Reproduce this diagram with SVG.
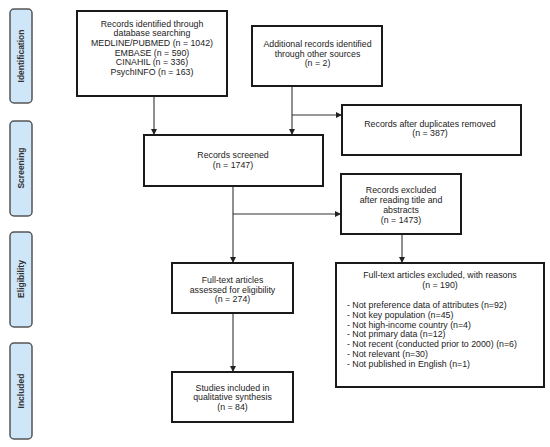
<svg xmlns="http://www.w3.org/2000/svg" width="550" height="447" viewBox="0 0 550 447">
<style>
.box{fill:#fff;stroke:#1a1a1a;stroke-width:2}
.side{fill:#cfe6f8;stroke:#555;stroke-width:1.5}
.t{font-family:"Liberation Sans",Arial,sans-serif;font-size:8.8px;fill:#222;text-anchor:middle}
.l{text-anchor:start}
.s{font-family:"Liberation Sans",Arial,sans-serif;font-size:8.5px;font-weight:bold;fill:#333;text-anchor:middle}
.c{fill:none;stroke:#333;stroke-width:1.1}
</style>
<defs>
<marker id="ah" viewBox="0 0 10 10" refX="10" refY="5" markerWidth="6" markerHeight="6" markerUnits="userSpaceOnUse" orient="auto">
<path d="M0,0 L10,5 L0,10 z" fill="#222"/>
</marker>
</defs>
<rect width="550" height="447" fill="#fff"/>
<g id="side-identification"><rect class="side" x="10" y="9" width="22" height="94" rx="4"/><text class="s" transform="translate(24,56) rotate(-90)">Identification</text></g>
<g id="side-screening"><rect class="side" x="10" y="121" width="22" height="95" rx="4"/><text class="s" transform="translate(24,168) rotate(-90)">Screening</text></g>
<g id="side-eligibility"><rect class="side" x="10" y="232" width="22" height="95" rx="4"/><text class="s" transform="translate(24,279) rotate(-90)">Eligibility</text></g>
<g id="side-included"><rect class="side" x="10" y="343" width="22" height="96" rx="4"/><text class="s" transform="translate(24,391) rotate(-90)">Included</text></g>

<g id="connectors">
<line class="c" x1="154" y1="96" x2="154" y2="135" marker-end="url(#ah)"/>
<line class="c" x1="292" y1="86" x2="292" y2="135" marker-end="url(#ah)"/>
<line class="c" x1="292" y1="115" x2="342" y2="115" marker-end="url(#ah)"/>
<line class="c" x1="233" y1="186" x2="233" y2="263" marker-end="url(#ah)"/>
<line class="c" x1="233" y1="214" x2="341" y2="214" marker-end="url(#ah)"/>
<line class="c" x1="402" y1="234" x2="402" y2="263" marker-end="url(#ah)"/>
<line class="c" x1="233" y1="313" x2="233" y2="372" marker-end="url(#ah)"/>
</g>

<g id="records-identified"><rect class="box" x="77" y="11" width="150" height="85"/>
<text class="t" x="152" y="26.5">Records identified through</text>
<text class="t" x="152" y="36">database searching</text>
<text class="t" x="152" y="46">MEDLINE/PUBMED (n = 1042)</text>
<text class="t" x="152" y="55.5">EMBASE (n = 590)</text>
<text class="t" x="152" y="65">CINAHIL (n = 336)</text>
<text class="t" x="152" y="74.5">PsychINFO (n = 163)</text></g>

<g id="additional-records"><rect class="box" x="252" y="26" width="130" height="60"/>
<text class="t" x="317.5" y="47">Additional records identified</text>
<text class="t" x="317.5" y="57">through other sources</text>
<text class="t" x="317.5" y="66">(n = 2)</text></g>

<g id="duplicates-removed"><rect class="box" x="342" y="105" width="179" height="50"/>
<text class="t" x="430" y="126.5">Records after duplicates removed</text>
<text class="t" x="430" y="136">(n = 387)</text></g>

<g id="records-screened"><rect class="box" x="144" y="135" width="179" height="51"/>
<text class="t" x="233" y="157.5">Records screened</text>
<text class="t" x="233" y="167.5">(n = 1747)</text></g>

<g id="records-excluded"><rect class="box" x="341" y="174" width="120" height="60"/>
<text class="t" x="401" y="192.5">Records excluded</text>
<text class="t" x="401" y="203">after reading title and</text>
<text class="t" x="401" y="213">abstracts</text>
<text class="t" x="401" y="222.5">(n = 1473)</text></g>

<g id="fulltext-assessed"><rect class="box" x="172" y="263" width="121" height="50"/>
<text class="t" x="232.5" y="283">Full-text articles</text>
<text class="t" x="232.5" y="292.5">assessed for eligibility</text>
<text class="t" x="232.5" y="302">(n = 274)</text></g>

<g id="studies-included"><rect class="box" x="172" y="372" width="121" height="50"/>
<text class="t" x="232.5" y="390.5">Studies included in</text>
<text class="t" x="232.5" y="400">qualitative synthesis</text>
<text class="t" x="232.5" y="409.5">(n = 84)</text></g>

<g id="fulltext-excluded"><rect class="box" x="336" y="263" width="208" height="124"/>
<text class="t" x="440" y="278">Full-text articles excluded, with reasons</text>
<text class="t" x="440" y="288">(n = 190)</text>
<text class="t l" x="347" y="308">- Not preference data of attributes (n=92)</text>
<text class="t l" x="347" y="318">- Not key population (n=45)</text>
<text class="t l" x="347" y="327.5">- Not high-income country (n=4)</text>
<text class="t l" x="347" y="337">- Not primary data (n=12)</text>
<text class="t l" x="347" y="347">- Not recent (conducted prior to 2000) (n=6)</text>
<text class="t l" x="347" y="357">- Not relevant (n=30)</text>
<text class="t l" x="347" y="367">- Not published in English (n=1)</text></g>
</svg>
